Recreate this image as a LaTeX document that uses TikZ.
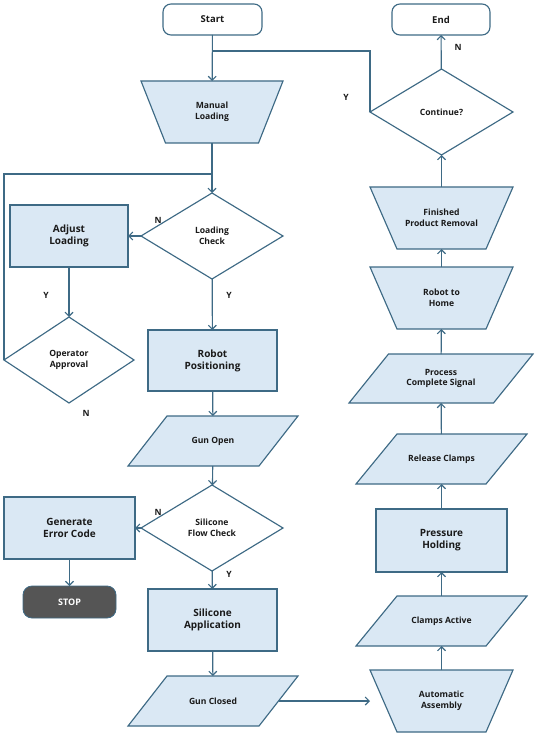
\documentclass[tikz,border=0pt]{standalone}
\usepackage{fontspec}
\setmainfont{Open Sans}
\usetikzlibrary{shapes.geometric,arrows.meta,backgrounds}
\definecolor{edge}{HTML}{3E6A85}
\definecolor{boxfill}{HTML}{DAE8F4}
\definecolor{stopfill}{HTML}{555555}
\definecolor{txt}{HTML}{1A1A1A}
\tikzset{
  every node/.style={font=\bfseries\fontsize{8.6}{10.5}\selectfont, text=txt, align=center},
  outl/.style={draw=edge, line width=1.15pt, fill=boxfill, line join=miter},
  rectbox/.style={outl, rectangle, inner sep=0pt, outer sep=0pt, font=\bfseries\fontsize{10}{12}\selectfont},
  holder/.style={rectangle, inner sep=0pt, outer sep=0pt},
  decision/.style={diamond, draw=edge, line width=1.15pt, fill=white, inner sep=0pt, outer sep=0pt},
  terminal/.style={rectangle, rounded corners=8pt, draw=edge, line width=1.15pt, fill=white, inner sep=0pt, outer sep=0pt, font=\bfseries\fontsize{9.5}{11}\selectfont},
  flow/.style={draw=edge, line width=1.15pt, -{Straight Barb[length=4pt,width=8pt]}},
  plain/.style={draw=edge, line width=1.15pt},
  lbl/.style={font=\bfseries\fontsize{8.6}{10}\selectfont, text=txt}
}
\newcommand\invtrap[2]{\draw[outl] (#1.north west) -- (#1.north east) -- ([xshift=-#2]#1.south east) -- ([xshift=#2]#1.south west) -- cycle;}
\newcommand\paral[2]{\draw[outl] ([xshift=#2]#1.north west) -- (#1.north east) -- ([xshift=-#2]#1.south east) -- (#1.south west) -- cycle;}
\begin{document}
\begin{tikzpicture}[x=1pt,y=-1pt]
\useasboundingbox (0,0) rectangle (536,735);
% terminals
\node[terminal, minimum width=99pt, minimum height=31pt] (start) at (212.5,19.5) {Start};
\node[terminal, minimum width=98pt, minimum height=31pt] (end) at (441,19.5) {End};
% left column
\node[holder, minimum width=142pt, minimum height=62pt] (ml) at (212,112) {Manual\\Loading};
\node[decision, minimum width=142pt, minimum height=86pt] (lc) at (212,236) {Loading\\Check};
\node[rectbox, minimum width=118pt, minimum height=62pt] (adj) at (69,236) {Adjust\\Loading};
\node[decision, minimum width=130pt, minimum height=86pt] (op) at (69,360) {Operator\\Approval};
\node[rectbox, minimum width=129pt, minimum height=61pt] (rp) at (212.5,360.5) {Robot\\Positioning};
\node[holder, minimum width=170pt, minimum height=50pt] (go) at (213,441) {Gun Open};
\node[decision, minimum width=142pt, minimum height=86pt] (sfc) at (212,528) {Silicone\\Flow Check};
\node[rectbox, minimum width=131pt, minimum height=62pt] (gec) at (69.5,528) {Generate\\Error Code};
\node[rectangle, rounded corners=9pt, draw=edge, line width=0.8pt, fill=stopfill, text=white, minimum width=93pt, minimum height=32pt, inner sep=0pt, outer sep=0pt, font=\bfseries\fontsize{9}{11}\selectfont] (stop) at (69.5,602) {STOP};
\node[rectbox, minimum width=129pt, minimum height=62pt] (sa) at (212.5,620) {Silicone\\Application};
\node[holder, minimum width=170pt, minimum height=50pt] (gc) at (213,701) {Gun Closed};
% right column
\node[holder, minimum width=143pt, minimum height=62pt] (aa) at (441.5,701) {Automatic\\Assembly};
\node[holder, minimum width=171pt, minimum height=50pt] (ca) at (441.5,621) {Clamps Active};
\node[rectbox, minimum width=131pt, minimum height=63pt] (ph) at (441.5,540.5) {Pressure\\Holding};
\node[holder, minimum width=171pt, minimum height=50pt] (rc) at (441.5,459) {Release Clamps};
\node[holder, minimum width=184pt, minimum height=49pt] (pcs) at (441,378.5) {Process\\Complete Signal};
\node[holder, minimum width=143pt, minimum height=62pt] (rth) at (441.5,298) {Robot to\\Home};
\node[holder, minimum width=143pt, minimum height=62pt] (fpr) at (441.5,218) {Finished\\Product Removal};
\node[decision, minimum width=143pt, minimum height=86pt] (cont) at (441.5,112) {Continue?};
% shape outlines behind text
\begin{scope}[on background layer]
\invtrap{ml}{24.5pt}
\invtrap{aa}{27pt}
\invtrap{rth}{27pt}
\invtrap{fpr}{27pt}
\paral{go}{39pt}
\paral{gc}{39pt}
\paral{ca}{41pt}
\paral{rc}{41pt}
\paral{pcs}{39.5pt}
\end{scope}
% junction coordinates
\coordinate (j1) at (212,51);
\coordinate (j2) at (212,174);
\coordinate (gcR) at ([xshift=-19.5pt]gc.east);
% connectors
\draw[flow] (start) -- (ml);
\draw[plain] (cont.west) |- (j1);
\draw[flow] (cont) -- (end);
\draw[flow] (ml) -- (lc);
\draw[plain] (op.west) |- (j2);
\draw[flow] (lc.west) -- (adj.east);
\draw[flow] (adj) -- (op);
\draw[flow] (lc) -- (rp);
\draw[flow] (rp) -- (go);
\draw[flow] (go) -- (sfc);
\draw[flow] (sfc.west) -- (gec.east);
\draw[flow] (gec) -- (stop);
\draw[flow] (sfc) -- (sa);
\draw[flow] (sa) -- (gc);
\draw[flow] (gcR) -- (aa.west);
\draw[flow] (aa) -- (ca);
\draw[flow] (ca) -- (ph);
\draw[flow] (ph) -- (rc);
\draw[flow] (rc) -- (pcs);
\draw[flow] (pcs) -- (rth);
\draw[flow] (rth) -- (fpr);
\draw[flow] (fpr) -- (cont);
% labels
\node[lbl] (ly1) at (346,97) {Y};
\node[lbl] (ln1) at (458,47) {N};
\node[lbl] (ln2) at (158,220) {N};
\node[lbl] (ly2) at (46,295) {Y};
\node[lbl] (ly3) at (229,295) {Y};
\node[lbl] (ln3) at (86,413) {N};
\node[lbl] (ln4) at (158,512) {N};
\node[lbl] (ly4) at (229,574) {Y};
\end{tikzpicture}
\end{document}
